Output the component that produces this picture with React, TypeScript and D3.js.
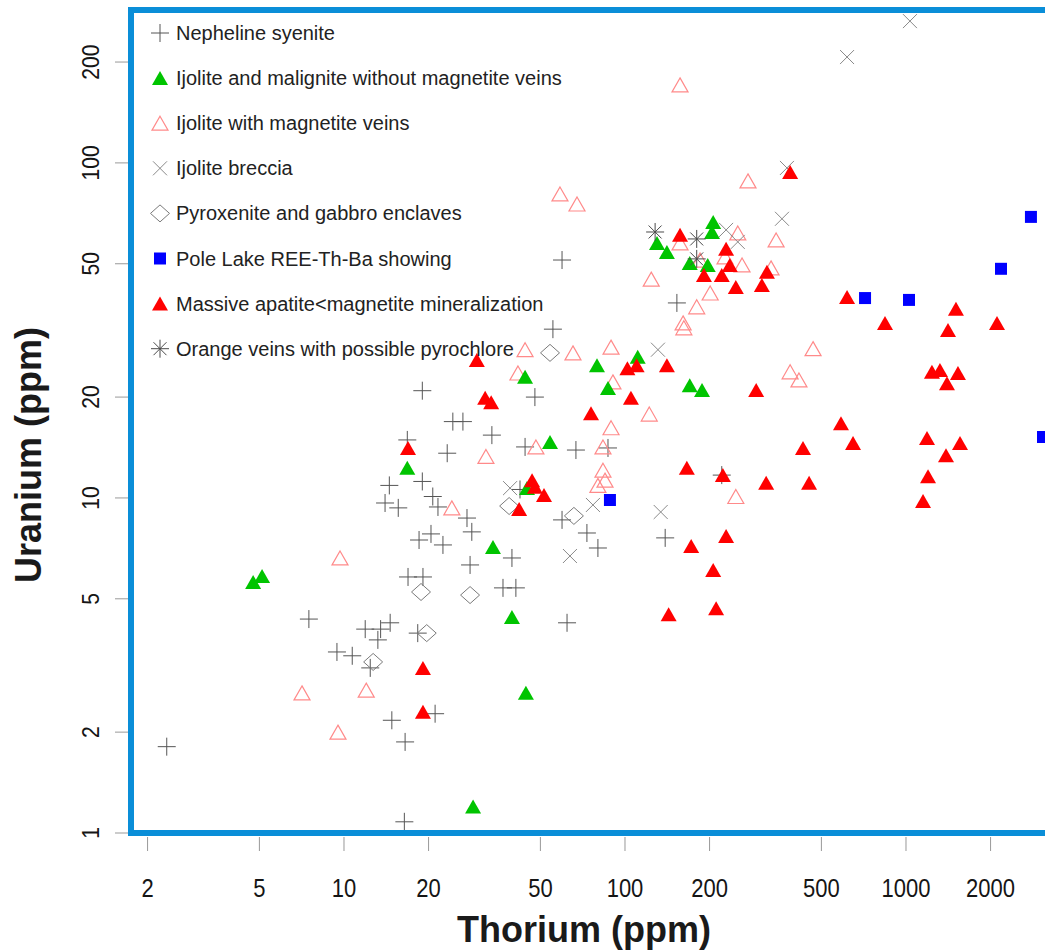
import React from 'react';
import * as d3 from 'd3';

// ---------- axis ticks ----------
const xTickValues = [2, 5, 10, 20, 50, 100, 200, 500, 1000, 2000];
const yTickValues = [1, 2, 5, 10, 20, 50, 100, 200];

// ---------- data: [Thorium ppm, Uranium ppm] ----------
const nephelineSyenite: [number, number][] = [
  [2.34, 1.81], [7.5, 4.35], [9.44, 3.47], [10.7, 3.38], [11.9, 4.06], [12.4, 3.11], [13.2, 3.77],
  [13.5, 4.06], [14.6, 4.24], [14.8, 2.17], [16.5, 1.87], [16.4, 1.08], [16.9, 5.81], [19.1, 5.81],
  [18.3, 3.95], [18.5, 7.49], [20.4, 7.81], [22.5, 7.24], [16.8, 14.9], [19.0, 11.2], [14.5, 10.9],
  [14.0, 9.66], [15.6, 9.34], [19.0, 20.9], [20.7, 10.1], [21.6, 9.4], [24.4, 16.9], [26.5, 16.9],
  [33.6, 15.4], [23.3, 13.6], [44.1, 14.2], [47.8, 20.0], [55.4, 31.9], [59.7, 51.3], [66.9, 13.9],
  [87.0, 14.1], [42.3, 10.6], [27.4, 8.71], [28.5, 7.92], [39.6, 6.62], [28.1, 6.31], [73.2, 7.86],
  [80.1, 7.09], [59.7, 8.6], [139, 7.6], [36.8, 5.39], [40.9, 5.39], [62.2, 4.24], [21.1, 2.27],
  [153, 38.2], [221, 11.7],
];

const ijoliteNoVeins: [number, number][] = [
  [4.75, 5.61], [5.11, 5.85], [16.8, 12.3], [28.8, 1.2], [33.9, 7.14], [39.6, 4.41], [44.4, 2.62],
  [44.1, 23.0], [54.1, 14.7], [79.5, 24.9], [87.0, 21.3], [111, 26.4], [170, 21.7], [188, 21.0],
  [44.8, 10.7], [130, 57.7], [141, 54.2], [170, 50.3], [197, 49.6], [206, 66.6], [204, 62.2],
];

const ijoliteMagnetiteVeins: [number, number][] = [
  [157, 171], [58.7, 80.8], [67.5, 75.4], [274, 88.4], [345, 58.9], [124, 45.0], [157, 57.7],
  [252, 61.8], [185, 51.3], [227, 52.4], [261, 49.6], [331, 48.6], [201, 40.9], [180, 37.2],
  [161, 33.3], [162, 32.2], [89.2, 28.2], [90.6, 22.2], [122, 17.8], [89.2, 16.2], [83.5, 14.2],
  [83.5, 12.1], [84.9, 11.3], [80.1, 10.9], [467, 27.9], [387, 23.8], [416, 22.5], [248, 10.1],
  [44.1, 27.7], [65.3, 27.1], [41.6, 23.6], [48.2, 14.2], [32.0, 13.3], [24.2, 9.34], [9.68, 6.62],
  [7.09, 2.62], [12.0, 2.67], [9.52, 2.0],
];

const ijoliteBreccia: [number, number][] = [
  [1033, 265], [617, 207], [377, 96.6], [362, 68.1], [229, 63.1], [252, 58.1], [131, 27.7],
  [39.0, 10.7], [76.9, 9.53], [63.7, 6.71], [134, 9.08],
];

const pyroxeniteEnclaves: [number, number][] = [
  [54.1, 27.1], [38.7, 9.46], [65.8, 8.84], [18.8, 5.24], [28.1, 5.13], [19.7, 3.95], [12.7, 3.24],
];

const poleLake: [number, number][] = [
  [88.4, 9.86], [715, 39.5], [1025, 39.0], [2784, 69.0], [2178, 48.3], [3073, 15.2],
];

const massiveApatite: [number, number][] = [
  [16.9, 14.1], [19.1, 3.11], [19.1, 2.3], [143, 4.5], [211, 4.69], [29.7, 25.8], [31.8, 19.9],
  [33.4, 19.3], [46.7, 11.3], [47.8, 10.8], [51.5, 10.2], [42.0, 9.27], [75.7, 17.9], [102, 24.4],
  [110, 24.9], [105, 19.9], [141, 24.9], [157, 61.0], [229, 55.4], [236, 49.6], [191, 46.3],
  [221, 46.3], [248, 42.6], [307, 43.2], [320, 47.3], [387, 94.0], [617, 39.8], [842, 33.3],
  [1506, 36.7], [1411, 31.7], [2108, 33.3], [293, 21.0], [1237, 23.8], [1321, 24.1], [1531, 23.6],
  [1399, 22.0], [587, 16.7], [648, 14.6], [1188, 15.1], [1557, 14.6], [1388, 13.4], [430, 14.1],
  [166, 12.3], [223, 11.7], [318, 11.1], [452, 11.1], [1198, 11.6], [1150, 9.8], [229, 7.7],
  [172, 7.19], [206, 6.1],
];

const orangeVeins: [number, number][] = [
  [128, 62.2], [180, 59.3], [180, 51.7],
];

// ---------- layout ----------
const W = 1045;
const H = 951;
const PLOT_LEFT = 131;
const PLOT_TOP = 10;
const PLOT_BOTTOM = 833;
const PLOT_RIGHT = 1045;

const x = d3.scaleLog().domain([1.746, 3124]).range([PLOT_LEFT, PLOT_RIGHT]);
const y = d3.scaleLog().domain([1, 286]).range([PLOT_BOTTOM, PLOT_TOP]);

// ---------- marker shapes ----------
function triangle(w: number, h: number) {
  const p = d3.path();
  p.moveTo(0, -h / 2);
  p.lineTo(w / 2, h / 2);
  p.lineTo(-w / 2, h / 2);
  p.closePath();
  return p.toString();
}
function plus(r: number) {
  const p = d3.path();
  p.moveTo(-r, 0); p.lineTo(r, 0);
  p.moveTo(0, -r); p.lineTo(0, r);
  return p.toString();
}
function times(r: number) {
  const p = d3.path();
  p.moveTo(-r, -r); p.lineTo(r, r);
  p.moveTo(-r, r); p.lineTo(r, -r);
  return p.toString();
}
function diamond(w: number, h: number) {
  const p = d3.path();
  p.moveTo(0, -h / 2); p.lineTo(w / 2, 0); p.lineTo(0, h / 2); p.lineTo(-w / 2, 0); p.closePath();
  return p.toString();
}
function square(s: number) {
  const p = d3.path();
  p.rect(-s / 2, -s / 2, s, s);
  return p.toString();
}
function asterisk(r: number) {
  const d = r * 0.72;
  const p = d3.path();
  p.moveTo(0, -r); p.lineTo(0, r);
  p.moveTo(-r, 0); p.lineTo(r, 0);
  p.moveTo(-d, -d); p.lineTo(d, d);
  p.moveTo(-d, d); p.lineTo(d, -d);
  return p.toString();
}

type Marker = { d: string; fill: string; stroke: string; sw: number };
const markers: Record<string, Marker> = {
  plus: { d: plus(9), fill: 'none', stroke: '#555', sw: 1 },
  greenTri: { d: triangle(16, 14), fill: '#00c400', stroke: 'none', sw: 0 },
  pinkTri: { d: triangle(16, 14), fill: 'none', stroke: '#ff8a8a', sw: 1.2 },
  times: { d: times(7), fill: 'none', stroke: '#8a8a8a', sw: 1 },
  diamond: { d: diamond(19, 17), fill: 'none', stroke: '#7a7a7a', sw: 1 },
  square: { d: square(12), fill: '#0000ff', stroke: 'none', sw: 0 },
  redTri: { d: triangle(16, 14), fill: '#ff0000', stroke: 'none', sw: 0 },
  asterisk: { d: asterisk(9), fill: 'none', stroke: '#4a4a4a', sw: 1 },
};

const legendSeries = [
  { label: 'Nepheline syenite', kind: 'plus', data: nephelineSyenite },
  { label: 'Ijolite and malignite without magnetite veins', kind: 'greenTri', data: ijoliteNoVeins },
  { label: 'Ijolite with magnetite veins', kind: 'pinkTri', data: ijoliteMagnetiteVeins },
  { label: 'Ijolite breccia', kind: 'times', data: ijoliteBreccia },
  { label: 'Pyroxenite and gabbro enclaves', kind: 'diamond', data: pyroxeniteEnclaves },
  { label: 'Pole Lake REE-Th-Ba showing', kind: 'square', data: poleLake },
  { label: 'Massive apatite<magnetite mineralization', kind: 'redTri', data: massiveApatite },
  { label: 'Orange veins with possible pyrochlore', kind: 'asterisk', data: orangeVeins },
];

const drawOrder = [0, 2, 4, 3, 1, 6, 5, 7];

function Mark({ kind, cx, cy }: { kind: string; cx: number; cy: number }) {
  const m = markers[kind];
  return (
    <path
      d={m.d}
      transform={`translate(${cx},${cy})`}
      fill={m.fill}
      stroke={m.stroke}
      strokeWidth={m.sw}
    />
  );
}

export default function App() {
  const font = "Arial, 'Liberation Sans', Helvetica, sans-serif";
  return (
    <svg
      width={W}
      height={H}
      style={{ position: 'absolute', left: 0, top: 0, background: '#fff' }}
      fontFamily={font}
    >
      <rect x={0} y={0} width={W} height={H} fill="#fff" />

      {/* x ticks */}
      {xTickValues.map((t) => (
        <g key={'xt' + t}>
          <line x1={x(t)} x2={x(t)} y1={837} y2={851} stroke="#999" strokeWidth={1} />
          <text
            transform={`translate(${x(t)},897) scale(0.88,1)`}
            textAnchor="middle"
            fontSize={25}
            fill="#151515"
          >
            {t}
          </text>
        </g>
      ))}

      {/* y ticks */}
      {yTickValues.map((t) => (
        <g key={'yt' + t}>
          <line x1={115} x2={129} y1={y(t)} y2={y(t)} stroke="#999" strokeWidth={1} />
          <text
            transform={`translate(99,${y(t)}) rotate(-90) scale(0.88,1)`}
            textAnchor="middle"
            fontSize={24}
            fill="#151515"
          >
            {t}
          </text>
        </g>
      ))}

      {/* axis titles */}
      <text x={584} y={942} textAnchor="middle" fontSize={36} fontWeight="bold" fill="#1a1a1a">
        Thorium (ppm)
      </text>
      <text
        x={41}
        y={455}
        transform="rotate(-90, 41, 455)"
        textAnchor="middle"
        fontSize={36}
        fontWeight="bold"
        fill="#1a1a1a"
      >
        Uranium (ppm)
      </text>

      {/* data */}
      {drawOrder.map((si) => {
        const s = legendSeries[si];
        return (
          <g key={'s' + si}>
            {s.data.map((p, i) => (
              <Mark key={i} kind={s.kind} cx={x(p[0])} cy={y(p[1])} />
            ))}
          </g>
        );
      })}

      {/* legend */}
      {legendSeries.map((s, i) => {
        const cy = 33 + i * 45.1;
        return (
          <g key={'lg' + i}>
            <Mark kind={s.kind} cx={160} cy={cy} />
            <text x={176} y={cy + 7} fontSize={20} fill="#222">
              {s.label}
            </text>
          </g>
        );
      })}

      {/* frame */}
      <rect
        x={PLOT_LEFT}
        y={PLOT_TOP}
        width={1000}
        height={PLOT_BOTTOM - PLOT_TOP}
        fill="none"
        stroke="#0a8ed8"
        strokeWidth={6}
      />
    </svg>
  );
}
